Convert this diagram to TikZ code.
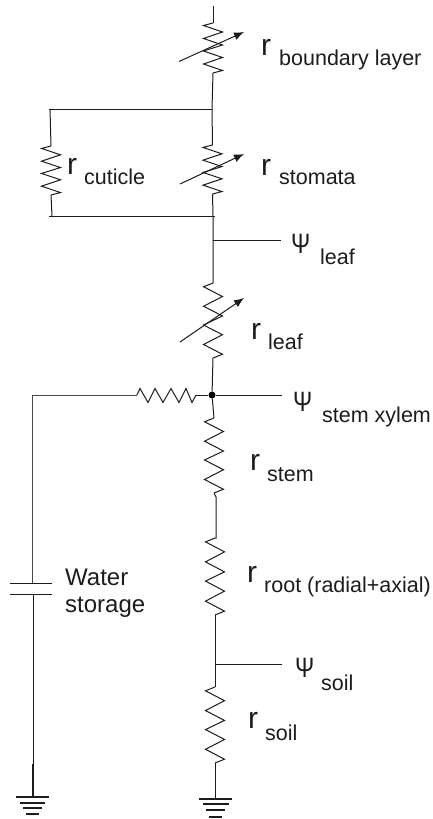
\documentclass[tikz,border=0pt]{standalone}
\usepackage{graphicx}
\usepackage{fontspec}
\setmainfont{Liberation Sans}
\usetikzlibrary{arrows.meta,calc}
\definecolor{ink}{HTML}{1c1c1c}
\newcommand{\narrowpsi}{\scalebox{0.82}[1]{Ψ}}
\tikzset{
  wire/.style={draw=ink,line width=1pt,line join=miter},
  adj/.style={draw=ink,line width=1pt,-{Latex[length=10pt,width=8pt]}},
  gbar/.style={draw=ink,line width=1.7pt},
  lab/.style={inner sep=0pt,anchor=base west,text=ink},
  big/.style={lab,font=\fontsize{30}{30}\selectfont},
  sub/.style={lab,font=\fontsize{21.5}{21.5}\selectfont},
  psi/.style={lab,font=\fontsize{28}{28}\selectfont},
  txt/.style={lab,font=\fontsize{24}{24}\selectfont},
  vres/.pic={
    \coordinate (-t) at (0,0);
    \coordinate (-b) at (0,50);
    \draw[wire] (0,0)--(-9.5,2.5)--(9.5,9)--(-9.5,15.5)--(9.5,22)--(-9.5,28)--(9.5,34.5)--(-9.5,41)--(9.5,47.5)--(0,50);
  },
  hres/.pic={
    \coordinate (-l) at (0,0);
    \coordinate (-r) at (59,0);
    \draw[wire] (0,0)--(3,-6.5)--(11,7.5)--(18,-6.5)--(26,7.5)--(34,-6.5)--(42,7.5)--(49,-6.5)--(55,7.5)--(59,0);
  }
}
\begin{document}
\begin{tikzpicture}[x=1pt,y=-1pt]
\useasboundingbox (0,0) rectangle (433,819);
% resistors
\pic (rbl) at (213,23) {vres};
\pic[yscale=0.98] (rst) at (212.5,145) {vres};
\pic[yscale=0.98] (rcu) at (51,146) {vres};
\pic[yscale=1.5] (rlf) at (213,283) {vres};
\pic[yscale=1.5] (rsm) at (214,418) {vres};
\pic[yscale=1.54] (rrt) at (215,538) {vres};
\pic[yscale=1.52] (rsl) at (215,687) {vres};
\pic (rh) at (137,395) {hres};
% junctions
\coordinate (top) at (213,6);
\coordinate (jt) at (212,109);
\coordinate (jtl) at (49,109);
\coordinate (jb) at (213,216);
\coordinate (jbl) at (49,216);
\coordinate (jbr) at (215,216);
\coordinate (jl) at (213,240);
\coordinate (pl) at (281,240);
\node[fill=black,circle,inner sep=0pt,minimum size=7pt] (jx) at (212,395) {};
\coordinate (px) at (282,395);
\coordinate (cl) at (32,395);
\coordinate (js) at (215,664);
\coordinate (ps) at (282,664);
\coordinate (c1) at (32,583);
\coordinate (c2) at (33,594);
\coordinate (g1) at (33,797);
\coordinate (g1a) at (33,764);
\coordinate (g2) at (215,799);
% wires
\draw[wire] (top)--(rbl-t);
\draw[wire] (rbl-b)--(jt)--(rst-t);
\draw[wire] (jtl)--(jt);
\draw[wire] (50,109)--(rcu-t);
\draw[wire] (rcu-b)--(52,216);
\draw[wire] (jbl)--(jbr);
\draw[wire] (rst-b)--(jb)--(rlf-t);
\draw[wire] (jl)--(pl);
\draw[wire] (rlf-b)--(jx)--(rsm-t);
\draw[wire] (jx)--(px);
\draw[wire] (rh-r)--(jx);
\draw[wire,draw=ink!80] (rh-l)--(cl)--(c1);
\draw[wire] (rsm-b)--(216,497)--(216,538)--(rrt-t);
\draw[wire] (rrt-b)--(rsl-t);
\draw[wire] (js)--(ps);
\draw[wire] (rsl-b)--(g2);
\draw[wire] (c2)--(g1);
\draw[wire,line width=1.7pt] (g1a)--(g1);
% capacitor
\draw[wire] (10,583)--(52,583);
\draw[wire] (10,594)--(52,594);
% adjusters
\draw[adj] (179,61.5)--(244,32);
\draw[adj] (180,184)--(244,154);
\draw[adj] (180,342)--(244,298);
% grounds
\draw[gbar] (16,797)--(49,797);
\draw[gbar] (20,803)--(45,803);
\draw[gbar] (23,808)--(42,808);
\draw[gbar] (26,814)--(39,814);
\draw[gbar] (199,799)--(232,799);
\draw[gbar] (203,804)--(228.5,804);
\draw[gbar,line width=2.6pt] (206,810)--(225,810);
\draw[gbar] (209,817)--(222,817);
% labels
\node[big] (l1) at (261,55) {r};
\node[sub] (l1s) at (279,65) {boundary layer};
\node[big] (l2) at (67,174) {r};
\node[sub] (l2s) at (84,184) {cuticle};
\node[big] (l3) at (261,175) {r};
\node[sub] (l3s) at (279,184) {stomata};
\node[psi] (l4) at (291,253) {\narrowpsi};
\node[sub] (l4s) at (320,264) {leaf};
\node[big] (l5) at (251,339) {r};
\node[sub] (l5s) at (268,349) {leaf};
\node[psi] (l6) at (293,411) {\narrowpsi};
\node[sub] (l6s) at (322,422) {stem xylem};
\node[big] (l7) at (250,470) {r};
\node[sub] (l7s) at (267,481) {stem};
\node[big] (l8) at (247,582) {r};
\node[sub] (l8s) at (264,592) {root (radial+axial)};
\node[psi] (l9) at (295,677) {\narrowpsi};
\node[sub] (l9s) at (321,690) {soil};
\node[big] (l10) at (248,728) {r};
\node[sub] (l10s) at (265,740) {soil};
\node[txt] (w1) at (65,585) {Water};
\node[txt] (w2) at (65,612) {storage};
\end{tikzpicture}
\end{document}
